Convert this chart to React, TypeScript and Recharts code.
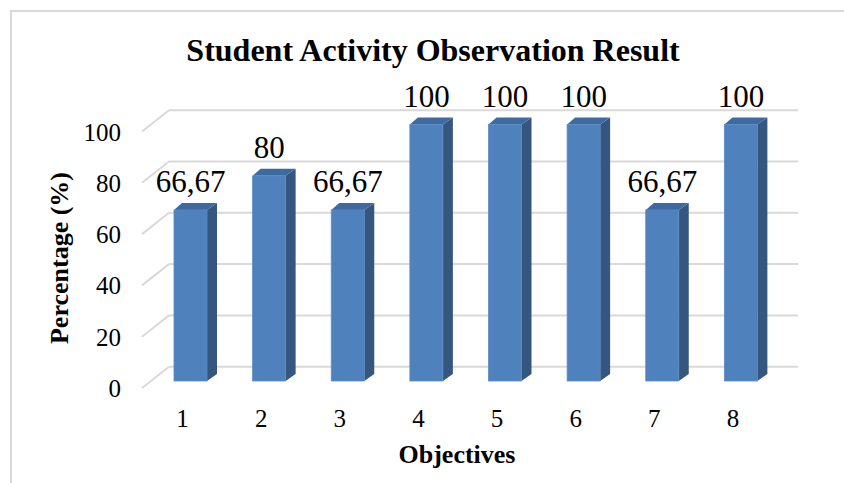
import { BarChart, Bar, XAxis, YAxis, CartesianGrid, LabelList } from 'recharts';

const objectives = ['1', '2', '3', '4', '5', '6', '7', '8'];
const percentages = [66.67, 80, 66.67, 100, 100, 100, 66.67, 100];
const yTicks = [0, 20, 40, 60, 80, 100];

const data = objectives.map((objective, i) => ({ objective, value: percentages[i] }));

const FONT = '"Liberation Serif", "Times New Roman", serif';
const GRID = '#d9d9d9';

// depth offsets for the fake 3D look
const BACK = { dx: 18, dy: -14.3 };
const FRONT = { dx: -9, dy: 7 };
const BAR_DEPTH = { dx: 10, dy: -7 };

const fmt = (v: number) => String(v).replace('.', ',');

function Bar3D(props: any) {
  const { x, y, width, height } = props;
  const { dx, dy } = BAR_DEPTH;
  return (
    <g>
      <polygon
        points={`${x + width},${y} ${x + width + dx},${y + dy} ${x + width + dx},${y + height + dy} ${x + width},${y + height}`}
        fill="#35567f"
      />
      <polygon
        points={`${x},${y} ${x + dx - 2},${y + dy} ${x + width + dx},${y + dy} ${x + width},${y}`}
        fill="#3e6aa0"
      />
      <rect x={x} y={y} width={width} height={height} fill="#4f81bd" stroke="#5a8ac4" strokeWidth={0.8} />
    </g>
  );
}

function gridLine(p: any) {
  return (
    <g key={p.key}>
      <line x1={p.x1 + BACK.dx} y1={p.y1 + BACK.dy} x2={p.x2 + BACK.dx} y2={p.y2 + BACK.dy} stroke={GRID} strokeWidth={2} />
      <line x1={p.x1 + FRONT.dx} y1={p.y1 + FRONT.dy} x2={p.x1 + BACK.dx} y2={p.y1 + BACK.dy} stroke={GRID} strokeWidth={2} />
    </g>
  );
}

function XTick({ x, y, payload }: any) {
  return (
    <text x={x - 7.7} y={y + 46} textAnchor="middle" fontSize={25} fontFamily={FONT} fill="#000">
      {payload.value}
    </text>
  );
}

function YTick({ x, y, payload }: any) {
  return (
    <text x={x - 30} y={y + 16} textAnchor="end" fontSize={25} fontFamily={FONT} fill="#000">
      {payload.value}
    </text>
  );
}

function ValueLabel({ x, y, width, value }: any) {
  return (
    <text x={x + width / 2} y={y - 18} textAnchor="middle" fontSize={31} fontFamily={FONT} fill="#000">
      {fmt(value)}
    </text>
  );
}

export default function App() {
  return (
    <div style={{ position: 'absolute', left: 0, top: 0, width: 844, height: 483, overflow: 'hidden', background: '#fff' }}>
      <div
        style={{
          position: 'absolute',
          left: 10,
          top: 10,
          width: 900,
          height: 600,
          borderTop: `2px solid ${GRID}`,
          borderLeft: `2px solid ${GRID}`,
        }}
      />
      <div style={{ position: 'absolute', left: 0, top: 0 }}>
        <BarChart width={844} height={483} data={data} margin={{ top: 124.5, right: 64, left: 91, bottom: 42 }}>
          <CartesianGrid vertical={false} horizontal={gridLine} />
          <XAxis
            dataKey="objective"
            height={60}
            axisLine={false}
            tickLine={false}
            tickSize={0}
            tickMargin={0}
            interval={0}
            tick={<XTick />}
          />
          <YAxis
            width={60}
            domain={[0, 100]}
            ticks={yTicks}
            interval={0}
            axisLine={false}
            tickLine={false}
            tickSize={0}
            tickMargin={0}
            tick={<YTick />}
          />
          <Bar dataKey="value" barSize={33} shape={<Bar3D />} isAnimationActive={false}>
            <LabelList dataKey="value" content={<ValueLabel />} />
          </Bar>
        </BarChart>
      </div>
      <svg width={844} height={483} style={{ position: 'absolute', left: 0, top: 0, pointerEvents: 'none' }}>
        <text x={433} y={61} textAnchor="middle" fontSize={32} fontWeight="bold" fontFamily={FONT} fill="#000">
          Student Activity Observation Result
        </text>
        <text x={457} y={463} textAnchor="middle" fontSize={26} fontWeight="bold" fontFamily={FONT} fill="#000">
          Objectives
        </text>
        <text
          x={68}
          y={258}
          textAnchor="middle"
          fontSize={26}
          fontWeight="bold"
          fontFamily={FONT}
          fill="#000"
          transform="rotate(-90 68 258)"
        >
          Percentage (%)
        </text>
      </svg>
    </div>
  );
}
